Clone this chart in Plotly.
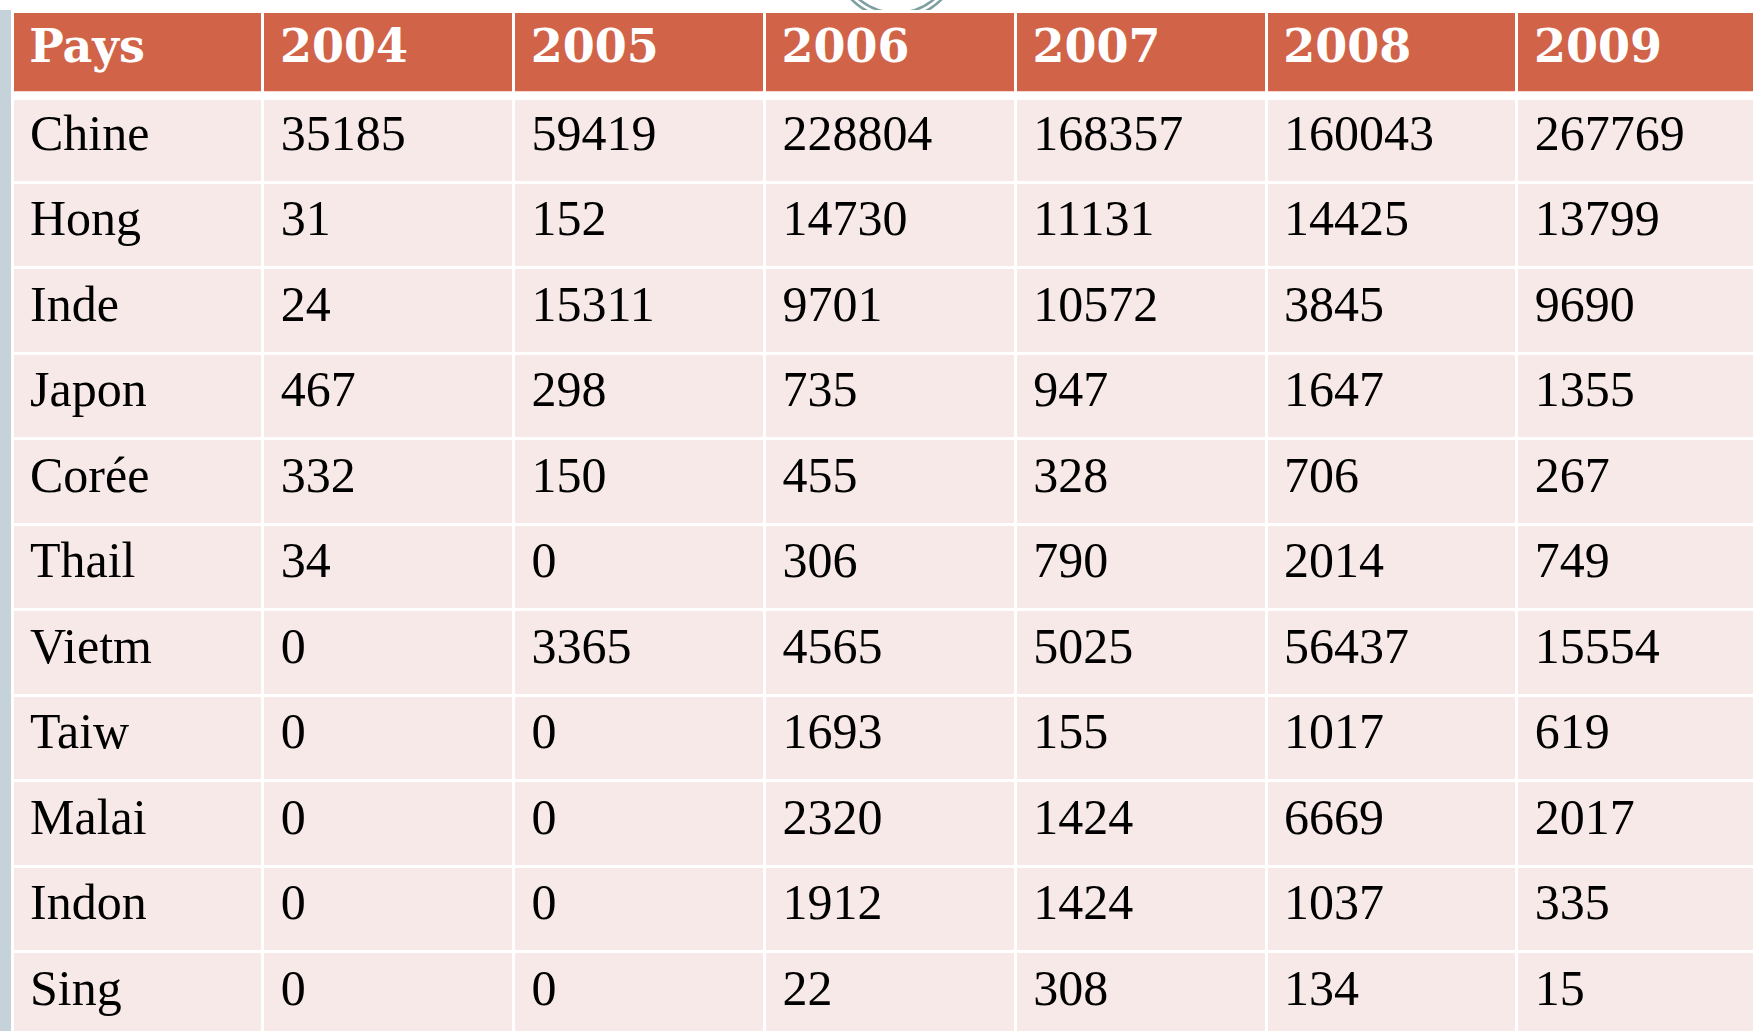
import plotly.graph_objects as go

W, H = 1754, 1031

# ---- data ----
header_labels = ["Pays", "2004", "2005", "2006", "2007", "2008", "2009"]
pays = ["Chine", "Hong", "Inde", "Japon", "Corée", "Thail", "Vietm", "Taiw", "Malai", "Indon", "Sing"]
y2004 = [35185, 31, 24, 467, 332, 34, 0, 0, 0, 0, 0]
y2005 = [59419, 152, 15311, 298, 150, 0, 3365, 0, 0, 0, 0]
y2006 = [228804, 14730, 9701, 735, 455, 306, 4565, 1693, 2320, 1912, 22]
y2007 = [168357, 11131, 10572, 947, 328, 790, 5025, 155, 1424, 1424, 308]
y2008 = [160043, 14425, 3845, 1647, 706, 2014, 56437, 1017, 6669, 1037, 134]
y2009 = [267769, 13799, 9690, 1355, 267, 749, 15554, 619, 2017, 335, 15]

HEAD_COLOR = "#D16349"
BODY_COLOR = "#F7E9E8"
BAR_COLOR = "#C6D2D9"
RING_COLOR = "#7D9FA0"

BODY_SIZE = 50     # rendered body text size (px)
HEAD_SIZE = 46     # rendered header text size (px)
BODY_BASE = 53.5   # table font size, sets the baseline offset
HEAD_BASE = 47


def px(x):
    return x / W


def py(y):
    return 1 - y / H


def shifted(s, base, size):
    # <sub> lowers the baseline; inner span restores the wanted size;
    # trailing <br> keeps the table from splitting the markup on spaces
    pct = 100.0 * size / (0.7 * base)
    return "<sub><span style='font-size:%.2f%%'>\u2009%s</span></sub><br>" % (pct, s)


columns = [pays, y2004, y2005, y2006, y2007, y2008, y2009]
cell_text = [[shifted(str(v), BODY_BASE, BODY_SIZE) for v in col] for col in columns]
head_text = [shifted("<b>" + h + "</b>", HEAD_BASE, HEAD_SIZE) for h in header_labels]

table_left = 12
col_w = 250.8
last_w = W - table_left - 6 * col_w

fig = go.Figure()
fig.add_trace(go.Table(
    domain=dict(x=[px(table_left), 1], y=[0, py(11)]),
    columnwidth=[col_w] * 6 + [last_w],
    header=dict(
        values=head_text,
        fill_color=HEAD_COLOR,
        line=dict(color="white", width=3),
        align="left",
        height=85.5,
        font=dict(family="DejaVu Serif", size=HEAD_BASE, color="white"),
    ),
    cells=dict(
        values=cell_text,
        fill_color=BODY_COLOR,
        line=dict(color="white", width=3),
        align="left",
        height=85.5,
        font=dict(family="Liberation Serif", size=BODY_BASE, color="black"),
    ),
))

shapes = [
    # left grey bar
    dict(type="rect", xref="paper", yref="paper", x0=px(0), x1=px(11.3), y0=py(H), y1=py(10),
         fillcolor=BAR_COLOR, line=dict(width=0), layer="below"),
    # ring ornament (mostly hidden behind header)
    dict(type="circle", xref="paper", yref="paper",
         x0=px(896.5 - 63.7), x1=px(896.5 + 63.7), y0=py(-45.7 + 63.7), y1=py(-45.7 - 63.7),
         line=dict(color=RING_COLOR, width=2.5), layer="below"),
    dict(type="circle", xref="paper", yref="paper",
         x0=px(896.5 - 58.5), x1=px(896.5 + 58.5), y0=py(-45.7 + 58.5), y1=py(-45.7 - 58.5),
         line=dict(color=RING_COLOR, width=2.5), layer="below"),
    # white gap between header and body
    dict(type="rect", xref="paper", yref="paper", x0=px(table_left), x1=1, y0=py(100), y1=py(91.3),
         fillcolor="white", line=dict(width=0), layer="above"),
]

fig.update_layout(
    width=W, height=H,
    margin=dict(l=0, r=0, t=0, b=0),
    paper_bgcolor="white",
    plot_bgcolor="white",
    shapes=shapes,
    showlegend=False,
)

fig.write_html("out.html", config={"displayModeBar": False},
               post_script="document.body.style.margin='0';")
